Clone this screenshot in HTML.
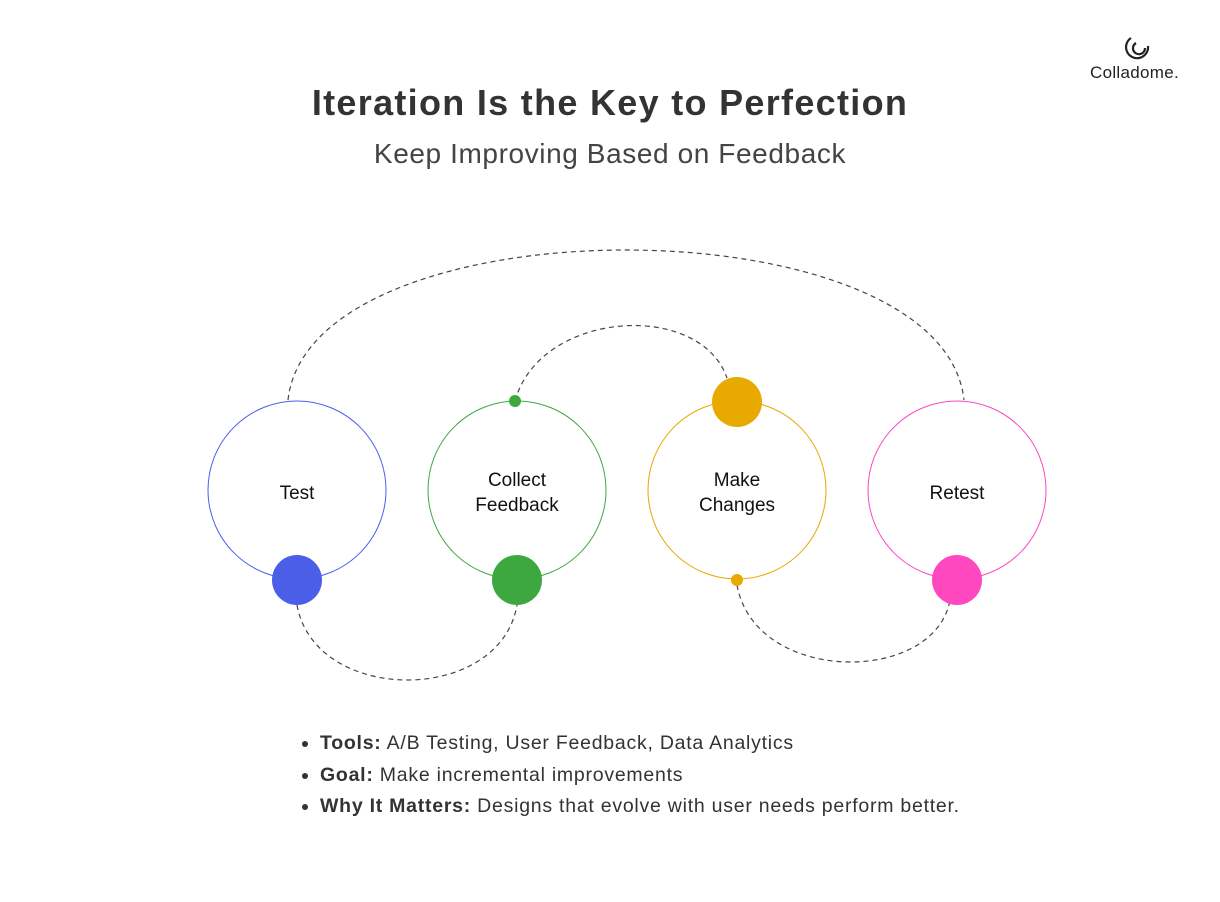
<!DOCTYPE html>
<html><head><style>
body{margin:0;width:1220px;height:902px;background:#fff;position:relative;font-family:"Liberation Sans",sans-serif;overflow:hidden}
.t{position:absolute;left:0;width:1220px;text-align:center;color:#333}
ul{position:absolute;left:300px;top:728px;margin:0;padding:0 0 0 20px;font-size:19.5px;color:#333;line-height:31.5px;letter-spacing:0.75px}
</style></head><body>
<div class="t" style="top:82px;font-size:36px;font-weight:bold;letter-spacing:1.3px">Iteration Is the Key to Perfection</div>
<div class="t" style="top:138px;font-size:28px;color:#444;letter-spacing:0.6px">Keep Improving Based on Feedback</div>
<div style="position:absolute;left:1090px;top:63px;font-size:17px;color:#222;letter-spacing:0.3px">Colladome.</div>
<svg width="1220" height="902" style="position:absolute;left:0;top:0">
<g fill="none" stroke="#222" stroke-width="2.2">
<path d="M1131 38 A11 11 0 1 0 1148 46"/><path d="M1136 43 A6 6 0 1 0 1145 48"/>
</g>
<g fill="none" stroke="#444" stroke-width="1.2" stroke-dasharray="5,4">
<path d="M288 400 C310 200 942 200 964 400"/>
<path d="M515 401 C540 310 700 300 727 378"/>
<path d="M297 605 C315 705 500 705 517 605"/>
<path d="M737 585 C755 685 935 685 950 600"/>
</g>
<circle cx="297" cy="490" r="89" fill="none" stroke="#4a5cf0"/>
<circle cx="517" cy="490" r="89" fill="none" stroke="#3fa63f"/>
<circle cx="737" cy="490" r="89" fill="none" stroke="#e6a800"/>
<circle cx="957" cy="490" r="89" fill="none" stroke="#ff45bf"/>
<circle cx="297" cy="580" r="25" fill="#4a5ee8"/>
<circle cx="517" cy="580" r="25" fill="#3ea840"/>
<circle cx="737" cy="402" r="25" fill="#e8aa00"/>
<circle cx="957" cy="580" r="25" fill="#ff48c0"/>
<circle cx="515" cy="401" r="6" fill="#3ea840"/>
<circle cx="737" cy="580" r="6" fill="#e8aa00"/>
<g font-family="Liberation Sans" font-size="19" fill="#111" text-anchor="middle">
<text x="297" y="499">Test</text>
<text x="517" y="486">Collect</text><text x="517" y="511">Feedback</text>
<text x="737" y="486">Make</text><text x="737" y="511">Changes</text>
<text x="957" y="499">Retest</text>
</g>
</svg>
<ul>
<li><b>Tools:</b> A/B Testing, User Feedback, Data Analytics</li>
<li><b>Goal:</b> Make incremental improvements</li>
<li><b>Why It Matters:</b> Designs that evolve with user needs perform better.</li>
</ul>
</body></html>
